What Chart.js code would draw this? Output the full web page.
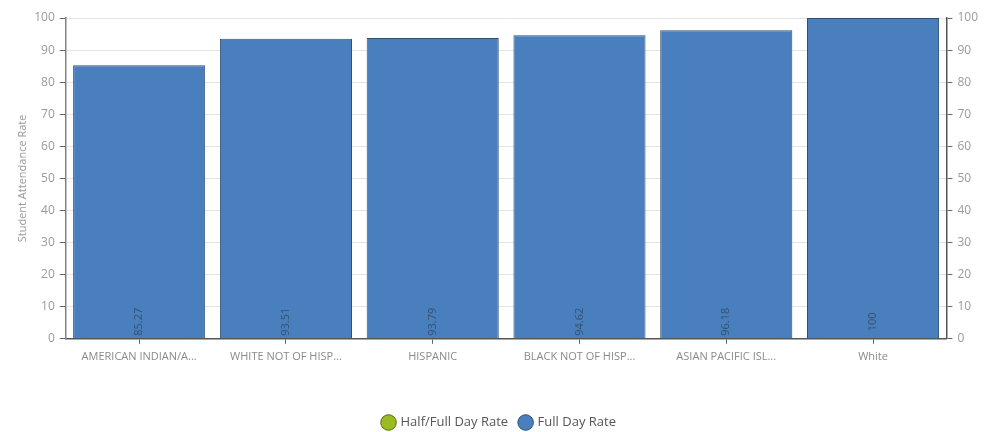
<!DOCTYPE html>
<html>
<head>
<meta charset="utf-8">
<script src="https://cdn.jsdelivr.net/npm/chart.js@4/dist/chart.umd.min.js"></script>
<style>
  html, body { margin: 0; padding: 0; background: #fff; }
  #wrap { width: 991px; height: 432px; }
</style>
</head>
<body>
<div id="wrap"><canvas id="chart"></canvas></div>
<script>
var categories = ["AMERICAN INDIAN/A...", "WHITE NOT OF HISP...", "HISPANIC", "BLACK NOT OF HISP...", "ASIAN PACIFIC ISL...", "White"];
var fullDayRate = [85.27, 93.51, 93.79, 94.62, 96.18, 100];
var halfFullDayRate = [null, null, null, null, null, null];
var yTicks = [0, 10, 20, 30, 40, 50, 60, 70, 80, 90, 100];

Chart.defaults.font.family = "'Open Sans', sans-serif";

// draws the value of each bar, rotated, near the base
var valueLabels = {
	id: "valueLabels",
	afterDatasetsDraw: function(chart){
		var ctx = chart.ctx;
		var meta = chart.getDatasetMeta(1);
		var base = chart.scales.y.getPixelForValue(0);
		ctx.save();
		ctx.fillStyle = "#34506e";
		ctx.font = "11px 'Open Sans', sans-serif";
		ctx.textAlign = "center";
		ctx.textBaseline = "middle";
		meta.data.forEach(function(bar, i){
			ctx.save();
			ctx.translate(bar.x, base - 17);
			ctx.rotate(-Math.PI / 2);
			ctx.fillText(String(fullDayRate[i]), 0, 0);
			ctx.restore();
		});
		ctx.restore();
	}
};

var yAxis = function(pos){
	return {
		position: pos,
		min: 0,
		max: 100,
		afterBuildTicks: function(axis){
			axis.ticks = yTicks.map(function(v){ return {value: v}; });
		},
		border: { display: true, color: pos == "left" ? "#8c827c" : "#555", width: 1.5 },
		grid: {
			display: true,
			drawOnChartArea: pos == "left",
			color: "#e4e4e4",
			tickColor: "#666",
			tickLength: 6
		},
		ticks: { color: "#9a9a9a", font: { size: 12 }, padding: 5 },
		title: pos == "left" ? {
			display: true,
			text: "Student Attendance Rate",
			color: "#9a9a9a",
			font: { size: 11 },
			padding: { top: 0, bottom: 0 }
		} : { display: false }
	};
};

new Chart(document.getElementById("chart"), {
	type: "bar",
	data: {
		labels: categories,
		datasets: [
			{
				label: "Half/Full Day Rate",
				data: halfFullDayRate,
				backgroundColor: "#9bbb22",
				borderColor: "#556b10",
				borderWidth: 1,
				pointStyle: "circle"
			},
			{
				label: "Full Day Rate",
				data: fullDayRate,
				backgroundColor: "#4a7fbd",
				borderColor: "#2f4f70",
				borderWidth: 1,
				yAxisID: "y"
			}
		]
	},
	options: {
		responsive: true,
		maintainAspectRatio: false,
		animation: false,
		grouped: false,
		barPercentage: 0.9,
		categoryPercentage: 1,
		layout: { padding: { left: 16, right: 8, top: 18, bottom: -7 } },
		scales: {
			x: {
				border: { display: true, color: "#555", width: 1.5 },
				grid: { display: true, drawOnChartArea: false, offset: false, tickColor: "#666", tickLength: 5 },
				ticks: { color: "#8a8a8a", font: { size: 11 }, maxRotation: 0, autoSkip: false, padding: 6 },
				afterFit: function(axis){ axis.height += 35; }
			},
			y: yAxis("left"),
			y2: yAxis("right")
		},
		plugins: {
			legend: {
				position: "bottom",
				labels: {
					usePointStyle: true,
					pointStyle: "circle",
					boxWidth: 11,
					boxHeight: 11,
					color: "#555",
					font: { size: 13 },
					padding: 12
				}
			},
			tooltip: { enabled: false }
		}
	},
	plugins: [valueLabels]
});
</script>
</body>
</html>
